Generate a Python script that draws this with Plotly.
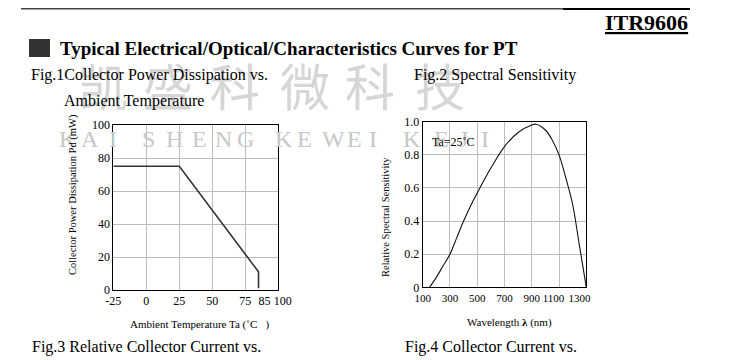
import plotly.graph_objects as go

# ---- data ----
temp_c = [-25, 25, 85, 85]
power_mw = [75, 75, 11, 1]
temp_ticks = [-25, 0, 25, 50, 75, 85, 100]
temp_labels = ["-25", "0", "25", "50", "75", "\u00a0\u00a0\u00a0\u00a085", "\u00a0\u00a0\u00a0100"]
temp_grid = [-25, 0, 25, 50, 75, 100]
pd_ticks = [0, 20, 40, 60, 80, 100]

wavelength_nm = [150, 200, 250, 300, 350, 400, 450, 500, 600, 700, 800, 900, 930,
                 1000, 1050, 1100, 1150, 1200, 1250, 1300]
rel_sens = [0.0, 0.06, 0.13, 0.2, 0.3, 0.4, 0.49, 0.57, 0.72, 0.85, 0.935, 0.98, 0.985,
            0.95, 0.89, 0.8, 0.66, 0.5, 0.25, 0.0]
wl_ticks = [100, 300, 500, 700, 900, 1100, 1300]
wl_labels = ["100", "300", "500", "700", "900", "1100\u00a0\u00a0\u00a0\u00a0",
             "1300\u00a0\u00a0\u00a0\u00a0\u00a0"]
sens_ticks = [0, 0.2, 0.4, 0.6, 0.8, 1.0]
sens_labels = ["0", "0.2", "0.4", "0.6", "0.8", "1.0"]

# the page body adds an 8px margin, so the figure is placed at (8, 8)
OFF = 8
W, H = 745 - OFF, 360 - OFF
def px(x):
    return (x - OFF) / W
def py(y):
    return 1 - (y - OFF) / H

SERIF = "Liberation Serif, Times New Roman, serif"

fig = go.Figure()
fig.add_trace(go.Scatter(x=temp_c, y=power_mw, mode="lines",
                         line=dict(color="#333333", width=1.6),
                         xaxis="x", yaxis="y", showlegend=False))
fig.add_trace(go.Scatter(x=wavelength_nm, y=rel_sens, mode="lines",
                         line=dict(color="#111111", width=1.1, shape="spline"),
                         xaxis="x2", yaxis="y2", showlegend=False))

axis_common = dict(showline=True, linecolor="black", linewidth=1, mirror=True,
                   ticks="", zeroline=False, gridcolor="#bdbdbd", gridwidth=1,
                   automargin=False, tickangle=0)
tf12 = dict(family=SERIF, size=12, color="black")
tf11 = dict(family=SERIF, size=11, color="black")

fig.update_layout(
    template="none",
    width=W, height=H, autosize=False,
    margin=dict(l=0, r=0, t=0, b=0, pad=0),
    paper_bgcolor="white", plot_bgcolor="white",
    xaxis=dict(domain=[px(113.3), px(278.3)], range=[-25, 100],
               tickvals=temp_ticks, ticktext=temp_labels,
               showgrid=False, tickfont=tf12,
               minor=dict(tickvals=temp_grid, showgrid=True, gridcolor="#bdbdbd", ticks=""),
               anchor="y", **axis_common),
    yaxis=dict(domain=[py(290), py(125)], range=[0, 100], tickvals=pd_ticks,
               tickfont=tf12, showgrid=True, anchor="x", **axis_common),
    xaxis2=dict(domain=[px(422.7), px(586.3)], range=[100, 1300], tickvals=wl_ticks,
                ticktext=wl_labels, tickfont=tf11, showgrid=True, anchor="y2", **axis_common),
    yaxis2=dict(domain=[py(287.3), py(121.7)], range=[0, 1.0], tickvals=sens_ticks,
                ticktext=sens_labels, tickfont=tf12, showgrid=True, anchor="x2", **axis_common),
)

ann = []
def text(x, y, s, size, color="black", xanchor="left", yanchor="middle", bold=False,
         family=SERIF, angle=0):
    if bold:
        s = "<b>" + s + "</b>"
    ann.append(dict(x=px(x), y=py(y), xref="paper", yref="paper", text=s,
                    showarrow=False, xanchor=xanchor, yanchor=yanchor, textangle=angle,
                    font=dict(family=family, size=size, color=color)))

# watermark (Chinese)
for cx, ch in zip([103, 168, 235, 305, 370, 440], "凯盛科微科技"):
    text(cx, 84, ch, 50, color="#d6d6d6", xanchor="center",
         family="Noto Sans CJK SC")
# watermark (latin)
for cx, ch in zip([68, 90, 113, 148, 174, 199, 223, 246, 284, 304, 333, 354, 373,
                   412, 441, 464, 485], "KAISHENGKEWEIKEJI"):
    text(cx, 139, ch, 24, color="#c8c8c8", xanchor="center")

text(690, 23, "<u>ITR9606</u>", 22, xanchor="right", bold=True)
text(58, 48, "Typical Electrical/Optical/Characteristics Curves for PT", 19, bold=True)
text(29, 75, "Fig.1Collector Power Dissipation vs.", 16)
text(62, 101, "Ambient Temperature", 16)
text(412, 75, "Fig.2 Spectral Sensitivity", 16)
text(30, 347, "Fig.3 Relative Collector Current vs.", 16)
text(403, 347, "Fig.4 Collector Current vs.", 16)

text(73, 195, "Collector Power Dissipation Pd (mW)", 10.5, xanchor="center", angle=-90)
text(200, 324, "Ambient Temperature Ta (˚C\u00a0\u00a0\u00a0)", 11, xanchor="center")
text(385, 217, "Relative Spectral Sensitivity", 10.5, xanchor="center", angle=-90)
text(509, 322, "Wavelength <b>λ</b> (nm)", 11, xanchor="center")
text(430, 142, "Ta=25˚C", 12)

fig.update_layout(annotations=ann)

shapes = [
    dict(type="line", xref="paper", yref="paper", x0=px(21), x1=px(563), y0=py(8.5), y1=py(8.5),
         line=dict(color="#444444", width=2)),
    dict(type="line", xref="paper", yref="paper", x0=px(563), x1=px(690), y0=py(8.5), y1=py(8.5),
         line=dict(color="black", width=3)),
    dict(type="rect", xref="paper", yref="paper", x0=px(29), x1=px(50), y0=py(57), y1=py(39),
         fillcolor="#333333", line=dict(width=0)),
]
fig.update_layout(shapes=shapes)

fig.write_html("out.html")
